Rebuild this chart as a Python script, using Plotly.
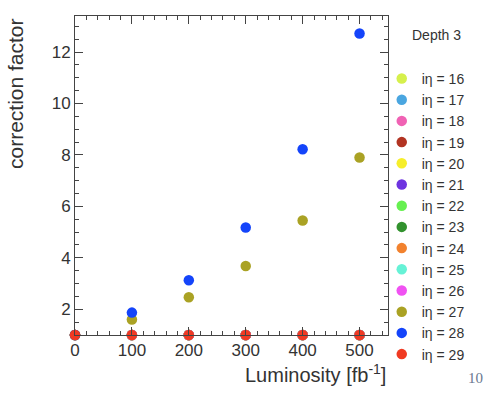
import plotly.graph_objects as go

luminosity = [0, 100, 200, 300, 400, 500]
ieta = [16, 17, 18, 19, 20, 21, 22, 23, 24, 25, 26, 27, 28, 29]
colors = ["#d6f04c", "#4aa6e0", "#f062b4", "#b23422", "#f6ee2a", "#6e34e0",
          "#66f050", "#32922e", "#f2822e", "#66f2d6", "#f052f2", "#aaa224",
          "#1444fa", "#f03a22"]
flat = [1.0, 1.0, 1.0, 1.0, 1.0, 1.0]
values = {
    16: flat, 17: flat, 18: flat, 19: flat, 20: flat, 21: flat, 22: flat,
    23: flat, 24: flat, 25: flat, 26: flat,
    27: [1.0, 1.6, 2.47, 3.68, 5.45, 7.9],
    28: [1.0, 1.87, 3.13, 5.18, 8.22, 12.72],
    29: flat,
}

fig = go.Figure()
for ie, c in zip(ieta, colors):
    fig.add_trace(go.Scatter(
        x=luminosity, y=values[ie], mode="markers",
        marker=dict(color=c, size=10.5, line=dict(width=0)),
        name=f"iη = {ie}", cliponaxis=False,
    ))

axis_common = dict(
    showline=True, linecolor="#444", linewidth=1, mirror="allticks",
    ticks="inside", ticklen=8, tickcolor="#444", showgrid=False, zeroline=False,
    tickfont=dict(family="Liberation Sans, Arial", size=17, color="#333"),
)
fig.update_xaxes(range=[0, 550], dtick=100, tick0=0,
                 minor=dict(ticks="inside", ticklen=4, dtick=20, tickcolor="#444"),
                 **axis_common)
fig.update_yaxes(range=[1, 13.4], dtick=2, tick0=0,
                 minor=dict(ticks="inside", ticklen=4, dtick=0.5, tickcolor="#444"),
                 **axis_common)

fig.update_layout(
    width=493, height=393,
    margin=dict(l=75, r=105, t=16, b=58),
    paper_bgcolor="white", plot_bgcolor="white",
    showlegend=True,
    legend=dict(x=0.98, xanchor="left", y=0.853, yanchor="top",
                font=dict(family="Liberation Sans, Arial", size=14, color="#333"),
                itemwidth=30, tracegroupgap=0, bgcolor="rgba(0,0,0,0)"),
    annotations=[
        dict(text="correction factor", xref="paper", yref="paper",
             x=-0.19, y=1.0, xanchor="center", yanchor="top", textangle=-90,
             showarrow=False,
             font=dict(family="Liberation Sans, Arial", size=21, color="#333")),
        dict(text="Luminosity [fb<sup>-1</sup>]", xref="paper", yref="paper",
             x=1.0, y=-0.075, xanchor="right", yanchor="top", showarrow=False,
             font=dict(family="Liberation Sans, Arial", size=20, color="#333")),
        dict(text="Depth 3", xref="paper", yref="paper",
             x=1.07, y=0.94, xanchor="left", yanchor="middle", showarrow=False,
             font=dict(family="Liberation Sans, Arial", size=14, color="#333")),
        dict(text="10", xref="paper", yref="paper",
             x=1.25, y=-0.135, xanchor="left", yanchor="middle", showarrow=False,
             font=dict(family="Liberation Serif, Times New Roman", size=15, color="#6a7890")),
    ],
)

fig.write_html("out.html")
